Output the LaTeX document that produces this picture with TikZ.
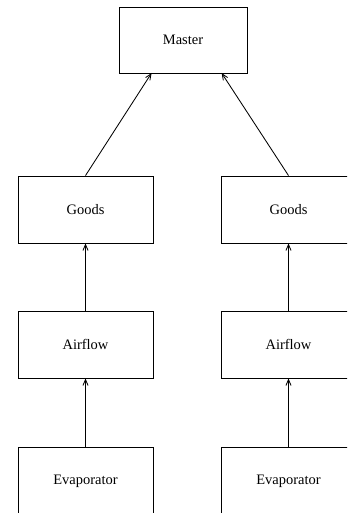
\documentclass[tikz,border=0pt]{standalone}
\usepackage{fontspec}
\setmainfont{Liberation Serif}
\usetikzlibrary{arrows,positioning}

\begin{document}
\begin{tikzpicture}[semithick, >=angle 45, box/.style={draw=black, minimum width=3.375cm, minimum height=1.675cm, font=\fontsize{10.3}{12}\selectfont}]
    \useasboundingbox (0,0) rectangle (8.675,12.825);
    \clip (0,0) rectangle (8.675,12.825);

    \node[box, minimum width=3.2cm, minimum height=1.65cm] (m) at (4.575, 11.825) {Master};

    \node[box] (g1) at (2.1375, 7.5875) {Goods};
    \node[box] (g2) at (7.2125, 7.5875) {Goods};
    \node[box] (a1) at (2.1375, 4.2125) {Airflow};
    \node[box] (a2) at (7.2125, 4.2125) {Airflow};
    \node[box] (e1) at (2.1375, 0.8) {Evaporator};
    \node[box] (e2) at (7.2125, 0.8) {Evaporator};

    \coordinate (mg1) at (3.79, 11.0) ;
    \coordinate (mg2) at (5.54, 11.0) ;
    \draw[->] (g1.north) -- (mg1);
    \draw[->] (g2.north) -- (mg2);

    \draw[->] (a1) -- (g1);
    \draw[->] (a2) -- (g2);
    \draw[->] (e1) -- (a1);
    \draw[->] (e2) -- (a2);

\end{tikzpicture}
\end{document}
